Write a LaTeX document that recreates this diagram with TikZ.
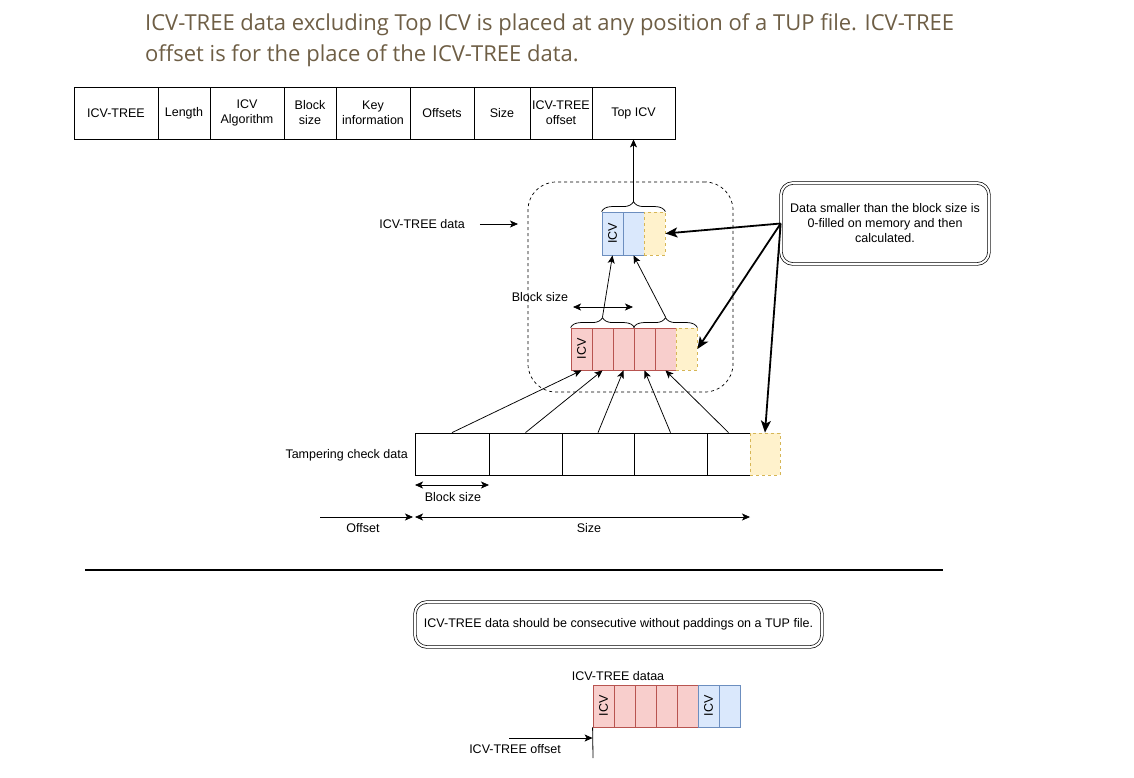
\documentclass[tikz,border=0pt]{standalone}
\usepackage{fontspec}
\setmainfont{Liberation Sans}
\newfontfamily\titlefont{Open Sans}
\usetikzlibrary{arrows.meta,decorations.pathreplacing,calc}
\definecolor{redfill}{HTML}{F8CECC}
\definecolor{redline}{HTML}{B85450}
\definecolor{bluefill}{HTML}{DAE8FC}
\definecolor{blueline}{HTML}{6C8EBF}
\definecolor{yelfill}{HTML}{FFF2CC}
\definecolor{yelline}{HTML}{D6B656}
\definecolor{titlecol}{HTML}{6E5E45}
\tikzset{
  txt/.style={font=\fontsize{12.5}{15}\selectfont, inner sep=0pt, align=center},
  titletxt/.style={anchor=base west, inner sep=0pt, text=titlecol, font=\titlefont\fontsize{22}{31}\selectfont},
  hcell/.style={draw, txt, minimum height=52pt, line width=0.8pt},
  cellbase/.style={inner sep=0pt, minimum width=21pt, line width=0.8pt},
  rcell/.style={cellbase, draw=redline, fill=redfill, minimum height=42pt},
  bcell/.style={cellbase, draw=blueline, fill=bluefill, minimum height=43pt},
  ycell/.style={cellbase, draw=yelline, fill=yelfill, dashed, minimum height=#1},
  tcell/.style={draw, inner sep=0pt, minimum height=42pt, line width=0.8pt},
  icvtxt/.style={txt, rotate=90},
  arr/.style={-{Stealth[length=8pt,width=7pt,inset=2pt]}, line width=0.75pt},
  darr/.style={{Stealth[length=8pt,width=7pt,inset=2pt]}-{Stealth[length=8pt,width=7pt,inset=2pt]}, line width=0.75pt},
  tarr/.style={-{Stealth[length=12pt,width=10pt,inset=3pt]}, line width=1.8pt},
  bracestyle/.style={decorate, decoration={brace, amplitude=10pt}, line width=0.75pt},
  callout/.style={draw, double, double distance=2pt, rounded corners=12pt, line width=0.7pt, txt}
}
\begin{document}
\begin{tikzpicture}[x=1pt,y=-1pt]
\useasboundingbox (0,0) rectangle (1134,777);
% title
\node[titletxt] (title1) at (145,30) {ICV-TREE data excluding Top ICV is placed at any position of a TUP file. ICV-TREE};
\node[titletxt] (title2) at (145,61) {offset is for the place of the ICV-TREE data.};
% header table
\foreach \a/\b/\t [count=\i] in {74/158/ICV-TREE, 158/210/Length, 210/284/{ICV\\Algorithm}, 284/336/{Block\\size}, 336/410/{Key\\information}, 410/474/Offsets, 474/530/Size, 530/592/{ICV-TREE\\offset}, 592/675/Top ICV}
  \node[hcell, minimum width={\b-\a}] (h\i) at ({(\a+\b)/2},113) {\t};
% group box
\node[draw, dashed, rounded corners=28pt, minimum width=205pt, minimum height=210pt, line width=0.7pt] (grp) at (630.5,287) {};
\node[txt] (glabel) at (422,224) {ICV-TREE data};
\coordinate (gend) at (518,224);
\draw[arr] ([xshift=15pt]glabel.east) -- (gend);
% blue cells
\node[bcell] (b1) at (612.5,233.5) {};
\node[bcell] (b2) at (633.5,233.5) {};
\node[ycell=43pt] (by) at (654.5,233.5) {};
\node[icvtxt] at (b1) {ICV};
% red cells
\foreach \x [count=\i] in {581.5,602.5,623.5,644.5,665.5}
  \node[rcell] (r\i) at (\x,349) {};
\node[ycell=42pt] (ry) at (686.5,349) {};
\node[icvtxt] at (r1) {ICV};
% braces
\draw[bracestyle] (b1.north west) -- (by.north east);
\coordinate (bt) at (633.5,202);
\draw[bracestyle] (r1.north west) -- (r3.north east);
\coordinate (lt) at (602.5,317);
\draw[bracestyle] (r4.north west) -- (ry.north east);
\coordinate (rt) at (665.5,317);
\draw[arr] (bt) -- (h9.south);
\draw[arr] (lt) -- (b1.south);
\draw[arr] (rt) -- (b2.south);
% block size inside
\node[txt] (bsl) at (540,297) {Block size};
\coordinate (bs1) at (573,307);
\coordinate (bs2) at (633,307);
\draw[darr] (bs1) -- (bs2);
% tampering check data
\foreach \a/\b [count=\i] in {415/489, 489/562, 562/634, 634/707, 707/750}
  \node[tcell, minimum width={\b-\a}] (t\i) at ({(\a+\b)/2},454) {};
\node[ycell=42pt, minimum width=30pt] (ty) at (765,454) {};
\node[txt, anchor=east] (tlabel) at (408,455) {Tampering check data};
\foreach \i in {1,...,5}
  \draw[arr] (t\i.north) -- (r\i.south);
% block size below
\coordinate (bb1) at (415,485);
\coordinate (bb2) at (489,485);
\draw[darr] (bb1) -- (bb2);
\node[txt] (bbl) at (453,497) {Block size};
% offset / size
\coordinate (o1) at (320,517);
\coordinate (o2) at (413,517);
\draw[arr] (o1) -- (o2);
\node[txt] (ol) at (363,528) {Offset};
\coordinate (s1) at (415,517);
\coordinate (s2) at (750,517);
\draw[darr] (s1) -- (s2);
\node[txt] (sl) at (589,528) {Size};
% callout
\node[callout, minimum width=208pt, minimum height=81pt] (call) at (885,223.5)
  {Data smaller than the block size is\\0-filled on memory and then\\calculated.};
\draw[tarr] (call.west) -- (by.east);
\draw[tarr] (call.west) -- (ry.east);
\draw[tarr] (call.west) -- (ty.north);
% separator
\coordinate (sep1) at (85,570);
\coordinate (sep2) at (943,570);
\draw[line width=2.5pt] (sep1) -- (sep2);
% bottom callout
\node[callout, minimum width=407pt, minimum height=45pt] (call2) at (618.5,624.5)
  {ICV-TREE data should be consecutive without paddings on a TUP file.};
% bottom cells
\foreach \x [count=\i] in {603.5,624.5,645.5,666.5,687.5}
  \node[rcell] (c\i) at (\x,706) {};
\node[bcell, minimum height=42pt] (d1) at (708.5,706) {};
\node[bcell, minimum height=42pt] (d2) at (729.5,706) {};
\node[icvtxt] at (c1) {ICV};
\node[icvtxt] at (d1) {ICV};
\node[txt] (dl) at (618,676) {ICV-TREE dataa};
\coordinate (vl) at (593,758);
\draw[line width=0.8pt] (c1.south west) -- (vl);
\coordinate (oa) at (509,738);
\draw[arr] (oa) -- (oa -| c1.south west);
\node[txt] (oal) at (515,749) {ICV-TREE offset};
\end{tikzpicture}
\end{document}
